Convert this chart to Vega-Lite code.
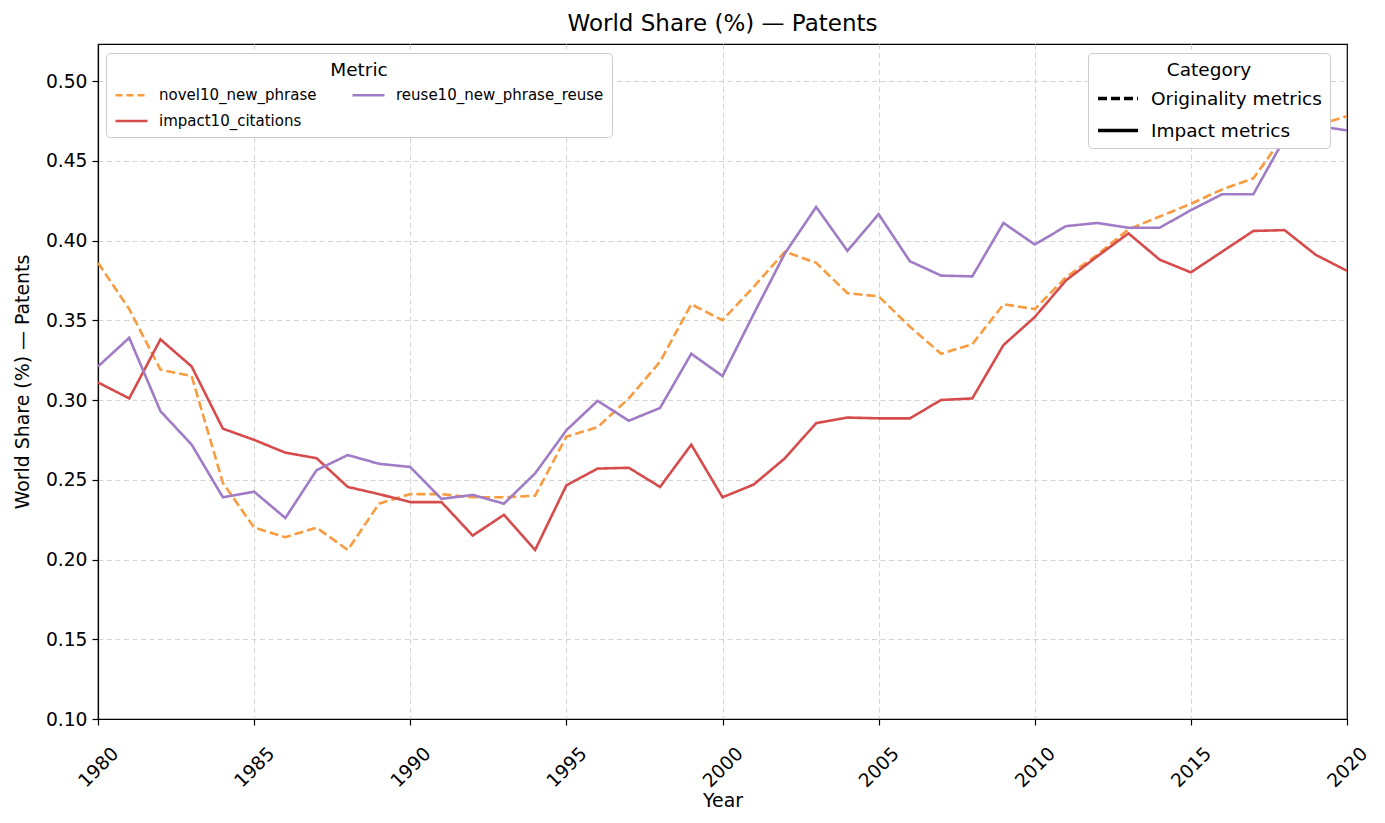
{
  "$schema": "https://vega.github.io/schema/vega-lite/v6.json",
  "width": 1249,
  "height": 675,
  "autosize": "none",
  "padding": {"left": 98, "top": 44, "right": 38, "bottom": 104},
  "background": "white",
  "title": {"text": "World Share (%) — Patents", "font": "DejaVu Sans", "fontSize": 23, "fontWeight": "normal", "color": "black", "anchor": "middle", "offset": 8},
  "config": {
    "font": "DejaVu Sans",
    "view": {"stroke": "black", "strokeWidth": 1.2},
    "axis": {"labelFont": "DejaVu Sans", "titleFont": "DejaVu Sans", "labelColor": "black", "titleColor": "black", "labelFontSize": 18.7, "titleFontSize": 18.9, "titleFontWeight": "normal", "domainColor": "black", "domainWidth": 1.2, "tickColor": "black", "tickSize": 6, "tickWidth": 1.2, "gridColor": "#d4d4d4", "gridDash": [5, 3.5], "gridWidth": 1},
    "legend": {"labelFont": "DejaVu Sans", "titleFont": "DejaVu Sans", "labelColor": "black", "titleColor": "black", "titleFontWeight": "normal", "labelLimit": 500}
  },
  "data": {"values": [
    {"year": 1980, "metric": "novel10_new_phrase", "category": "Originality metrics", "share": 0.386},
    {"year": 1981, "metric": "novel10_new_phrase", "category": "Originality metrics", "share": 0.357},
    {"year": 1982, "metric": "novel10_new_phrase", "category": "Originality metrics", "share": 0.319},
    {"year": 1983, "metric": "novel10_new_phrase", "category": "Originality metrics", "share": 0.315},
    {"year": 1984, "metric": "novel10_new_phrase", "category": "Originality metrics", "share": 0.248},
    {"year": 1985, "metric": "novel10_new_phrase", "category": "Originality metrics", "share": 0.220},
    {"year": 1986, "metric": "novel10_new_phrase", "category": "Originality metrics", "share": 0.214},
    {"year": 1987, "metric": "novel10_new_phrase", "category": "Originality metrics", "share": 0.220},
    {"year": 1988, "metric": "novel10_new_phrase", "category": "Originality metrics", "share": 0.206},
    {"year": 1989, "metric": "novel10_new_phrase", "category": "Originality metrics", "share": 0.235},
    {"year": 1990, "metric": "novel10_new_phrase", "category": "Originality metrics", "share": 0.241},
    {"year": 1991, "metric": "novel10_new_phrase", "category": "Originality metrics", "share": 0.241},
    {"year": 1992, "metric": "novel10_new_phrase", "category": "Originality metrics", "share": 0.239},
    {"year": 1993, "metric": "novel10_new_phrase", "category": "Originality metrics", "share": 0.239},
    {"year": 1994, "metric": "novel10_new_phrase", "category": "Originality metrics", "share": 0.240},
    {"year": 1995, "metric": "novel10_new_phrase", "category": "Originality metrics", "share": 0.277},
    {"year": 1996, "metric": "novel10_new_phrase", "category": "Originality metrics", "share": 0.283},
    {"year": 1997, "metric": "novel10_new_phrase", "category": "Originality metrics", "share": 0.301},
    {"year": 1998, "metric": "novel10_new_phrase", "category": "Originality metrics", "share": 0.324},
    {"year": 1999, "metric": "novel10_new_phrase", "category": "Originality metrics", "share": 0.360},
    {"year": 2000, "metric": "novel10_new_phrase", "category": "Originality metrics", "share": 0.350},
    {"year": 2001, "metric": "novel10_new_phrase", "category": "Originality metrics", "share": 0.371},
    {"year": 2002, "metric": "novel10_new_phrase", "category": "Originality metrics", "share": 0.393},
    {"year": 2003, "metric": "novel10_new_phrase", "category": "Originality metrics", "share": 0.386},
    {"year": 2004, "metric": "novel10_new_phrase", "category": "Originality metrics", "share": 0.367},
    {"year": 2005, "metric": "novel10_new_phrase", "category": "Originality metrics", "share": 0.365},
    {"year": 2006, "metric": "novel10_new_phrase", "category": "Originality metrics", "share": 0.346},
    {"year": 2007, "metric": "novel10_new_phrase", "category": "Originality metrics", "share": 0.329},
    {"year": 2008, "metric": "novel10_new_phrase", "category": "Originality metrics", "share": 0.335},
    {"year": 2009, "metric": "novel10_new_phrase", "category": "Originality metrics", "share": 0.360},
    {"year": 2010, "metric": "novel10_new_phrase", "category": "Originality metrics", "share": 0.357},
    {"year": 2011, "metric": "novel10_new_phrase", "category": "Originality metrics", "share": 0.377},
    {"year": 2012, "metric": "novel10_new_phrase", "category": "Originality metrics", "share": 0.391},
    {"year": 2013, "metric": "novel10_new_phrase", "category": "Originality metrics", "share": 0.407},
    {"year": 2014, "metric": "novel10_new_phrase", "category": "Originality metrics", "share": 0.415},
    {"year": 2015, "metric": "novel10_new_phrase", "category": "Originality metrics", "share": 0.423},
    {"year": 2016, "metric": "novel10_new_phrase", "category": "Originality metrics", "share": 0.432},
    {"year": 2017, "metric": "novel10_new_phrase", "category": "Originality metrics", "share": 0.439},
    {"year": 2018, "metric": "novel10_new_phrase", "category": "Originality metrics", "share": 0.466},
    {"year": 2019, "metric": "novel10_new_phrase", "category": "Originality metrics", "share": 0.472},
    {"year": 2020, "metric": "novel10_new_phrase", "category": "Originality metrics", "share": 0.478},

    {"year": 1980, "metric": "impact10_citations", "category": "Impact metrics", "share": 0.311},
    {"year": 1981, "metric": "impact10_citations", "category": "Impact metrics", "share": 0.301},
    {"year": 1982, "metric": "impact10_citations", "category": "Impact metrics", "share": 0.338},
    {"year": 1983, "metric": "impact10_citations", "category": "Impact metrics", "share": 0.321},
    {"year": 1984, "metric": "impact10_citations", "category": "Impact metrics", "share": 0.282},
    {"year": 1985, "metric": "impact10_citations", "category": "Impact metrics", "share": 0.275},
    {"year": 1986, "metric": "impact10_citations", "category": "Impact metrics", "share": 0.267},
    {"year": 1987, "metric": "impact10_citations", "category": "Impact metrics", "share": 0.2635},
    {"year": 1988, "metric": "impact10_citations", "category": "Impact metrics", "share": 0.2455},
    {"year": 1989, "metric": "impact10_citations", "category": "Impact metrics", "share": 0.241},
    {"year": 1990, "metric": "impact10_citations", "category": "Impact metrics", "share": 0.236},
    {"year": 1991, "metric": "impact10_citations", "category": "Impact metrics", "share": 0.236},
    {"year": 1992, "metric": "impact10_citations", "category": "Impact metrics", "share": 0.215},
    {"year": 1993, "metric": "impact10_citations", "category": "Impact metrics", "share": 0.228},
    {"year": 1994, "metric": "impact10_citations", "category": "Impact metrics", "share": 0.206},
    {"year": 1995, "metric": "impact10_citations", "category": "Impact metrics", "share": 0.2465},
    {"year": 1996, "metric": "impact10_citations", "category": "Impact metrics", "share": 0.257},
    {"year": 1997, "metric": "impact10_citations", "category": "Impact metrics", "share": 0.2575},
    {"year": 1998, "metric": "impact10_citations", "category": "Impact metrics", "share": 0.2455},
    {"year": 1999, "metric": "impact10_citations", "category": "Impact metrics", "share": 0.272},
    {"year": 2000, "metric": "impact10_citations", "category": "Impact metrics", "share": 0.239},
    {"year": 2001, "metric": "impact10_citations", "category": "Impact metrics", "share": 0.247},
    {"year": 2002, "metric": "impact10_citations", "category": "Impact metrics", "share": 0.2635},
    {"year": 2003, "metric": "impact10_citations", "category": "Impact metrics", "share": 0.2855},
    {"year": 2004, "metric": "impact10_citations", "category": "Impact metrics", "share": 0.289},
    {"year": 2005, "metric": "impact10_citations", "category": "Impact metrics", "share": 0.2885},
    {"year": 2006, "metric": "impact10_citations", "category": "Impact metrics", "share": 0.2885},
    {"year": 2007, "metric": "impact10_citations", "category": "Impact metrics", "share": 0.300},
    {"year": 2008, "metric": "impact10_citations", "category": "Impact metrics", "share": 0.301},
    {"year": 2009, "metric": "impact10_citations", "category": "Impact metrics", "share": 0.3345},
    {"year": 2010, "metric": "impact10_citations", "category": "Impact metrics", "share": 0.352},
    {"year": 2011, "metric": "impact10_citations", "category": "Impact metrics", "share": 0.375},
    {"year": 2012, "metric": "impact10_citations", "category": "Impact metrics", "share": 0.390},
    {"year": 2013, "metric": "impact10_citations", "category": "Impact metrics", "share": 0.4045},
    {"year": 2014, "metric": "impact10_citations", "category": "Impact metrics", "share": 0.388},
    {"year": 2015, "metric": "impact10_citations", "category": "Impact metrics", "share": 0.380},
    {"year": 2016, "metric": "impact10_citations", "category": "Impact metrics", "share": 0.393},
    {"year": 2017, "metric": "impact10_citations", "category": "Impact metrics", "share": 0.406},
    {"year": 2018, "metric": "impact10_citations", "category": "Impact metrics", "share": 0.4065},
    {"year": 2019, "metric": "impact10_citations", "category": "Impact metrics", "share": 0.391},
    {"year": 2020, "metric": "impact10_citations", "category": "Impact metrics", "share": 0.381},

    {"year": 1980, "metric": "reuse10_new_phrase_reuse", "category": "Impact metrics", "share": 0.321},
    {"year": 1981, "metric": "reuse10_new_phrase_reuse", "category": "Impact metrics", "share": 0.339},
    {"year": 1982, "metric": "reuse10_new_phrase_reuse", "category": "Impact metrics", "share": 0.293},
    {"year": 1983, "metric": "reuse10_new_phrase_reuse", "category": "Impact metrics", "share": 0.272},
    {"year": 1984, "metric": "reuse10_new_phrase_reuse", "category": "Impact metrics", "share": 0.239},
    {"year": 1985, "metric": "reuse10_new_phrase_reuse", "category": "Impact metrics", "share": 0.2425},
    {"year": 1986, "metric": "reuse10_new_phrase_reuse", "category": "Impact metrics", "share": 0.226},
    {"year": 1987, "metric": "reuse10_new_phrase_reuse", "category": "Impact metrics", "share": 0.256},
    {"year": 1988, "metric": "reuse10_new_phrase_reuse", "category": "Impact metrics", "share": 0.2655},
    {"year": 1989, "metric": "reuse10_new_phrase_reuse", "category": "Impact metrics", "share": 0.260},
    {"year": 1990, "metric": "reuse10_new_phrase_reuse", "category": "Impact metrics", "share": 0.258},
    {"year": 1991, "metric": "reuse10_new_phrase_reuse", "category": "Impact metrics", "share": 0.238},
    {"year": 1992, "metric": "reuse10_new_phrase_reuse", "category": "Impact metrics", "share": 0.2405},
    {"year": 1993, "metric": "reuse10_new_phrase_reuse", "category": "Impact metrics", "share": 0.235},
    {"year": 1994, "metric": "reuse10_new_phrase_reuse", "category": "Impact metrics", "share": 0.254},
    {"year": 1995, "metric": "reuse10_new_phrase_reuse", "category": "Impact metrics", "share": 0.281},
    {"year": 1996, "metric": "reuse10_new_phrase_reuse", "category": "Impact metrics", "share": 0.2995},
    {"year": 1997, "metric": "reuse10_new_phrase_reuse", "category": "Impact metrics", "share": 0.287},
    {"year": 1998, "metric": "reuse10_new_phrase_reuse", "category": "Impact metrics", "share": 0.295},
    {"year": 1999, "metric": "reuse10_new_phrase_reuse", "category": "Impact metrics", "share": 0.329},
    {"year": 2000, "metric": "reuse10_new_phrase_reuse", "category": "Impact metrics", "share": 0.315},
    {"year": 2001, "metric": "reuse10_new_phrase_reuse", "category": "Impact metrics", "share": 0.354},
    {"year": 2002, "metric": "reuse10_new_phrase_reuse", "category": "Impact metrics", "share": 0.392},
    {"year": 2003, "metric": "reuse10_new_phrase_reuse", "category": "Impact metrics", "share": 0.421},
    {"year": 2004, "metric": "reuse10_new_phrase_reuse", "category": "Impact metrics", "share": 0.3935},
    {"year": 2005, "metric": "reuse10_new_phrase_reuse", "category": "Impact metrics", "share": 0.4165},
    {"year": 2006, "metric": "reuse10_new_phrase_reuse", "category": "Impact metrics", "share": 0.387},
    {"year": 2007, "metric": "reuse10_new_phrase_reuse", "category": "Impact metrics", "share": 0.378},
    {"year": 2008, "metric": "reuse10_new_phrase_reuse", "category": "Impact metrics", "share": 0.3775},
    {"year": 2009, "metric": "reuse10_new_phrase_reuse", "category": "Impact metrics", "share": 0.411},
    {"year": 2010, "metric": "reuse10_new_phrase_reuse", "category": "Impact metrics", "share": 0.3975},
    {"year": 2011, "metric": "reuse10_new_phrase_reuse", "category": "Impact metrics", "share": 0.409},
    {"year": 2012, "metric": "reuse10_new_phrase_reuse", "category": "Impact metrics", "share": 0.411},
    {"year": 2013, "metric": "reuse10_new_phrase_reuse", "category": "Impact metrics", "share": 0.408},
    {"year": 2014, "metric": "reuse10_new_phrase_reuse", "category": "Impact metrics", "share": 0.408},
    {"year": 2015, "metric": "reuse10_new_phrase_reuse", "category": "Impact metrics", "share": 0.419},
    {"year": 2016, "metric": "reuse10_new_phrase_reuse", "category": "Impact metrics", "share": 0.429},
    {"year": 2017, "metric": "reuse10_new_phrase_reuse", "category": "Impact metrics", "share": 0.429},
    {"year": 2018, "metric": "reuse10_new_phrase_reuse", "category": "Impact metrics", "share": 0.464},
    {"year": 2019, "metric": "reuse10_new_phrase_reuse", "category": "Impact metrics", "share": 0.472},
    {"year": 2020, "metric": "reuse10_new_phrase_reuse", "category": "Impact metrics", "share": 0.469}
  ]},
  "mark": {"type": "line", "strokeWidth": 2.6, "clip": true},
  "encoding": {
    "x": {"field": "year", "type": "quantitative", "title": "Year",
      "scale": {"domain": [1980, 2020], "nice": false, "zero": false},
      "axis": {"values": [1980, 1985, 1990, 1995, 2000, 2005, 2010, 2015, 2020], "format": "d", "labelAngle": -45, "labelAlign": "center", "labelBaseline": "middle", "labelPadding": 42, "titlePadding": 1, "labelFlush": false, "labelOverlap": false,
        "gridOpacity": {"condition": {"test": "datum.value === 2020", "value": 0}, "value": 1}}},
    "y": {"field": "share", "type": "quantitative", "title": "World Share (%) — Patents",
      "scale": {"domain": [0.1, 0.5232], "nice": false, "zero": false},
      "axis": {"values": [0.1, 0.15, 0.2, 0.25, 0.3, 0.35, 0.4, 0.45, 0.5], "format": ".2f", "labelPadding": 5, "titlePadding": 13}},
    "color": {"field": "metric", "type": "nominal", "title": "Metric",
      "scale": {"domain": ["novel10_new_phrase", "impact10_citations", "reuse10_new_phrase_reuse"], "range": ["#f99b3f", "#d64b4b", "#a07cc6"]},
      "legend": {"orient": "none", "legendX": 8, "legendY": 9, "columns": 2, "columnPadding": 30, "rowPadding": -2, "symbolType": "stroke", "symbolSize": 1024, "symbolStrokeWidth": 2.6, "labelFontSize": 15, "labelOffset": 10, "titleFontSize": 18.5, "titleAnchor": "middle", "titlePadding": -2, "fillColor": "white", "strokeColor": "#cccccc", "cornerRadius": 4, "padding": 8,
        "encode": {"symbols": {"update": {"strokeDash": {"signal": "datum.value === 'novel10_new_phrase' ? [7, 4] : [1, 0]"}}}}}},
    "strokeDash": {"field": "category", "type": "nominal", "title": "Category",
      "scale": {"domain": ["Originality metrics", "Impact metrics"], "range": [[9, 4], [1, 0]]},
      "legend": {"orient": "none", "legendX": 990, "legendY": 9, "symbolType": "stroke", "symbolSize": 1600, "symbolStrokeWidth": 3.3, "symbolStrokeColor": "black", "labelFontSize": 18.5, "labelOffset": 11, "titleFontSize": 18.5, "titleAnchor": "middle", "titlePadding": -3, "rowPadding": -4, "fillColor": "white", "strokeColor": "#cccccc", "cornerRadius": 4, "padding": 8,
        "encode": {"symbols": {"update": {"strokeDash": {"signal": "datum.value === 'Originality metrics' ? [14, 6] : [1, 0]"}}}}}},
    "order": {"field": "year", "type": "quantitative"}
  }
}
